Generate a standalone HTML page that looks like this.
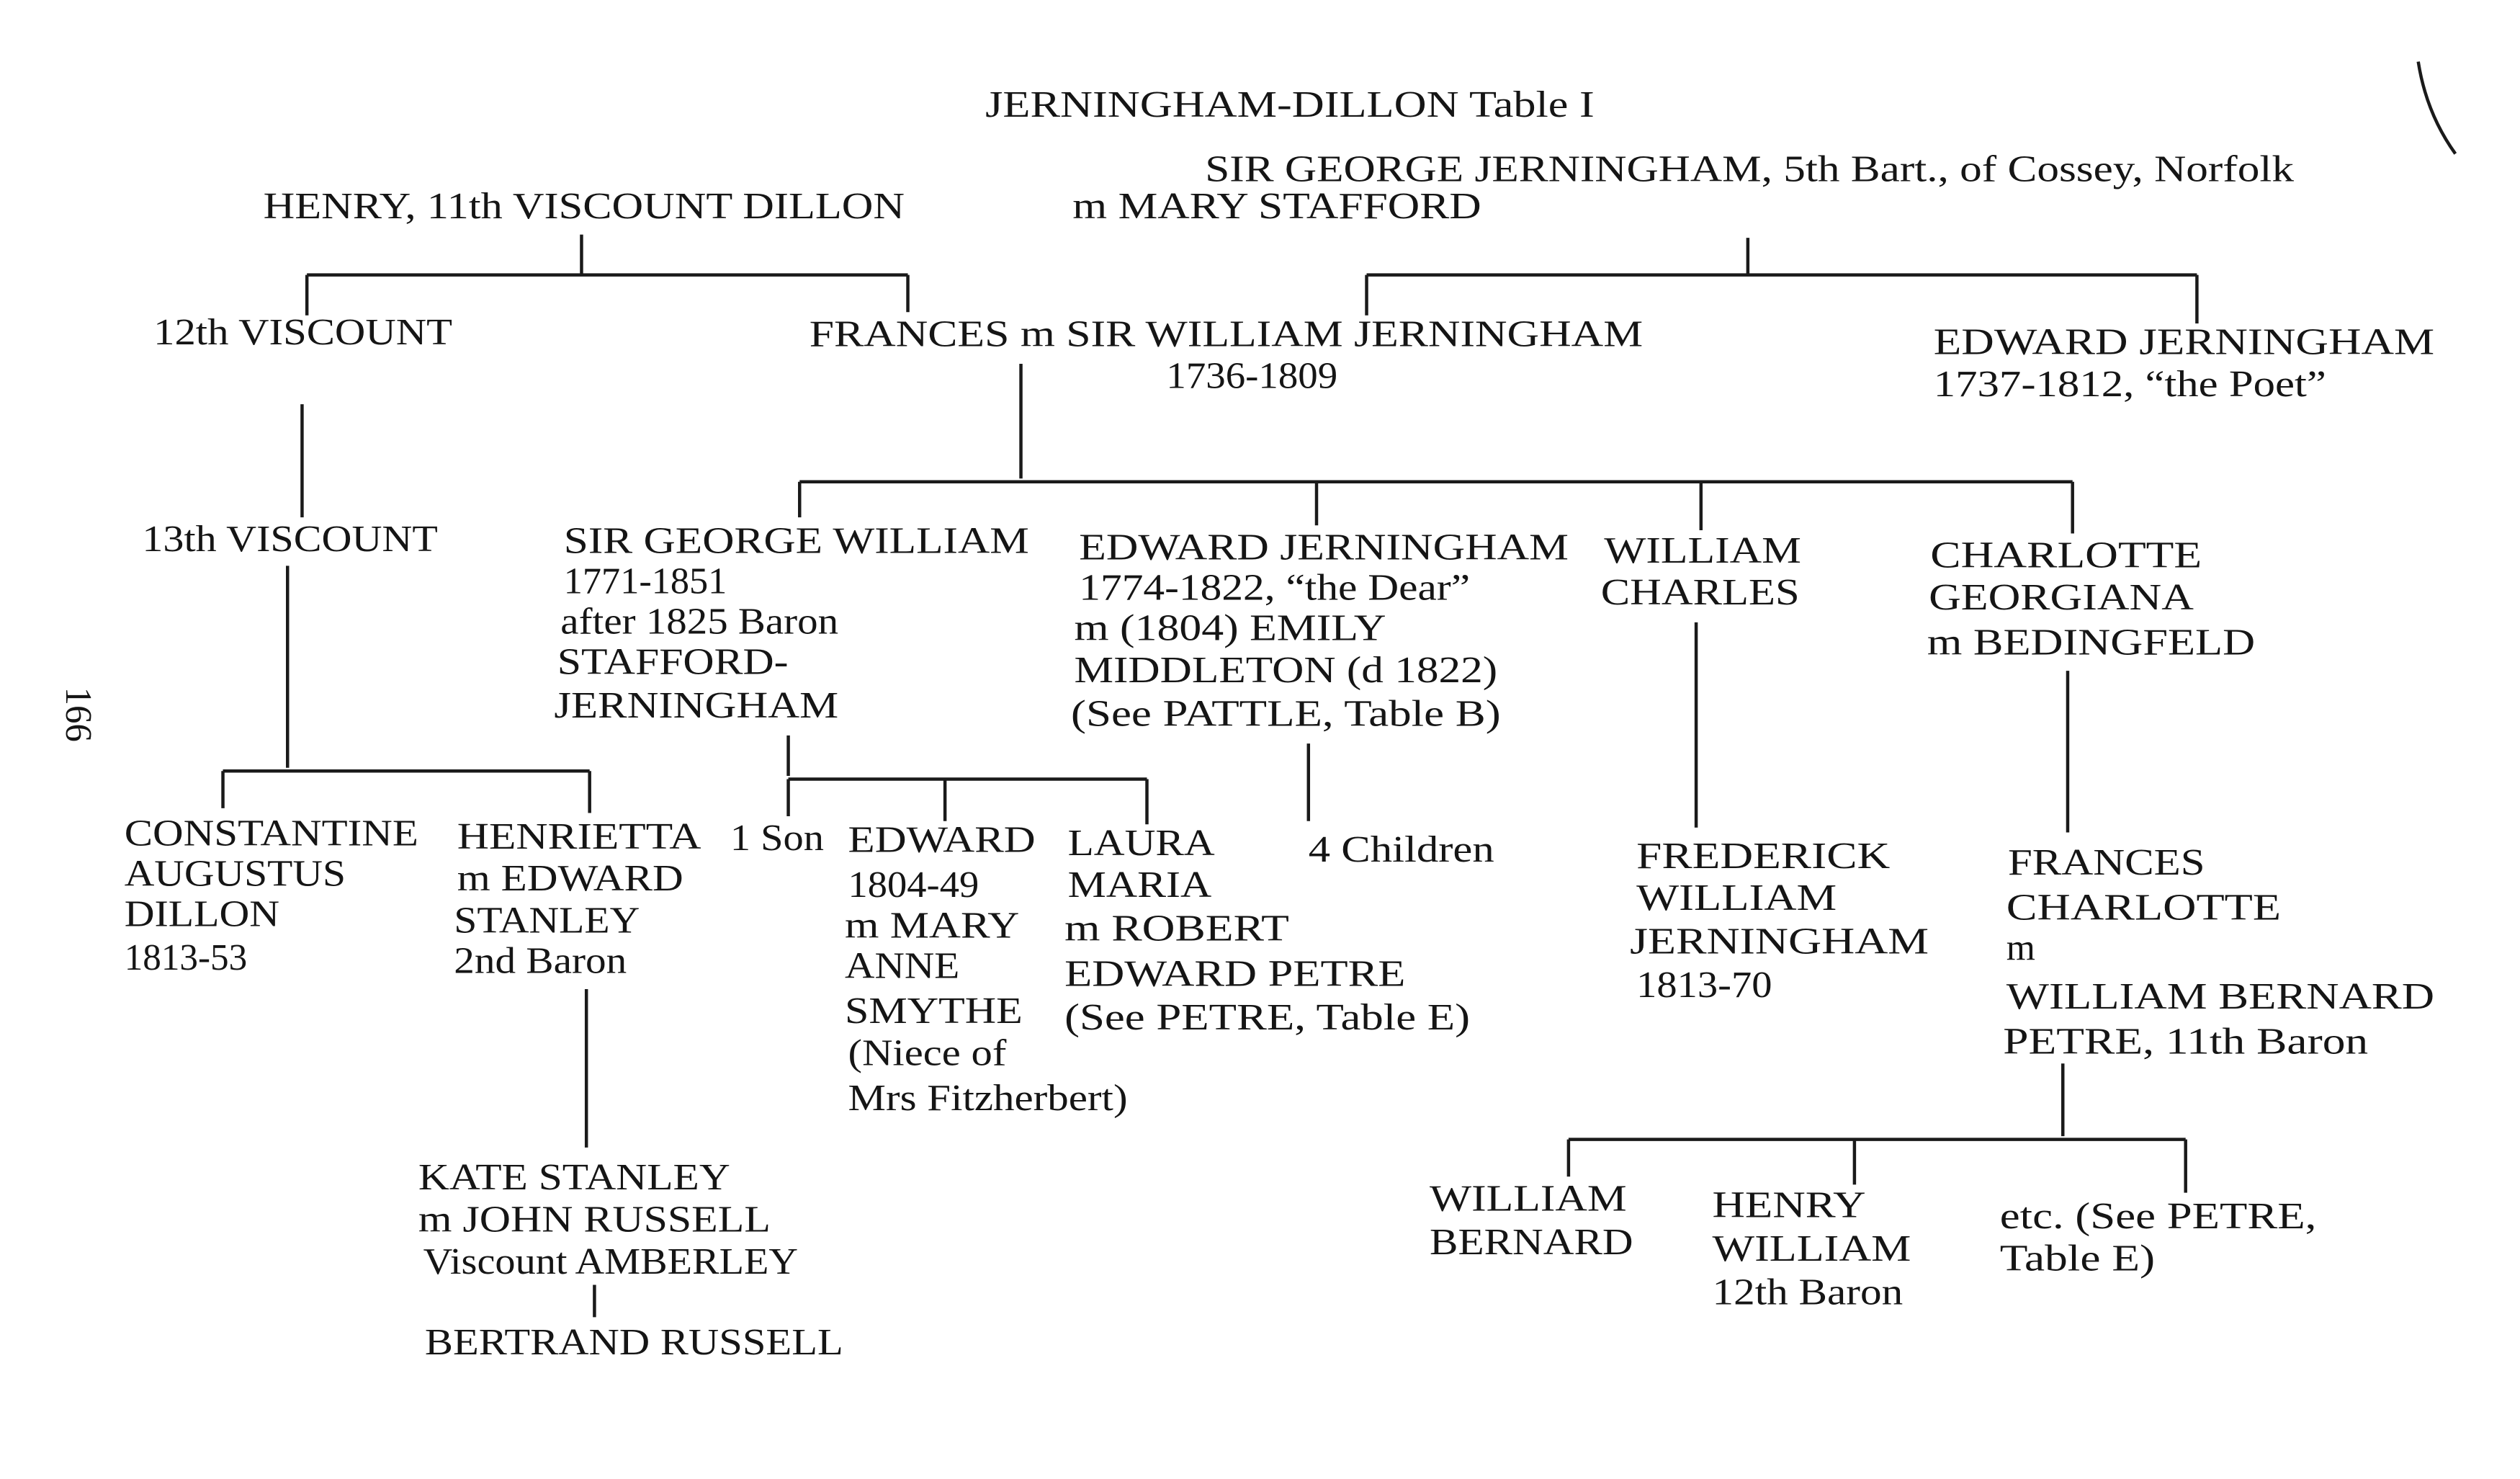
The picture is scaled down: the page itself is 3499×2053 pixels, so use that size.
<!DOCTYPE html>
<html><head><meta charset="utf-8"><style>
html,body{margin:0;padding:0;background:#fff;}
svg{display:block}
text{font-family:"Liberation Serif",serif;font-size:23px;fill:#151515;}
</style></head><body>
<svg width="3499" height="2053" viewBox="0 0 1560 915" xmlns="http://www.w3.org/2000/svg">
<rect width="1560" height="915" fill="#fff"/>
<g stroke="#1a1a1a" stroke-width="2" fill="none">
<path d="M360 145V170M190 170H562M190 170V195M562 170V193"/>
<path d="M1082 147V170M846 170H1360M846 170V195M1360 170V200"/>
<path d="M187 250V320"/>
<path d="M632 225V296M495 298H1283M495 298V320M815 298V325M1053 298V328M1283 298V330"/>
<path d="M178 350V475M138 477H365M138 477V500M365 477V503"/>
<path d="M488 455V480M488 482H710M488 482V505M585 482V508M710 482V510"/>
<path d="M810 460V508M1050 385V512M1280 415V515"/>
<path d="M363 612V710M368 795V815"/>
<path d="M1277 658V703M971 705H1353M971 705V728M1148 705V733M1353 705V738"/>
<path d="M1497 38Q1502 70 1520 95"/>
</g>
<g>
<text x="610" y="72" textLength="377" lengthAdjust="spacingAndGlyphs">JERNINGHAM-DILLON Table I</text>
<text x="746" y="112" textLength="674" lengthAdjust="spacingAndGlyphs">SIR GEORGE JERNINGHAM, 5th Bart., of Cossey, Norfolk</text>
<text x="664" y="135" textLength="253" lengthAdjust="spacingAndGlyphs">m MARY STAFFORD</text>
<text x="163" y="135" textLength="397" lengthAdjust="spacingAndGlyphs">HENRY, 11th VISCOUNT DILLON</text>
<text x="95" y="213" textLength="185" lengthAdjust="spacingAndGlyphs">12th VISCOUNT</text>
<text x="501" y="214" textLength="516" lengthAdjust="spacingAndGlyphs">FRANCES m SIR WILLIAM JERNINGHAM</text>
<text x="722" y="240" textLength="106" lengthAdjust="spacingAndGlyphs">1736-1809</text>
<text x="1197" y="219" textLength="310" lengthAdjust="spacingAndGlyphs">EDWARD JERNINGHAM</text>
<text x="1197" y="245" textLength="243" lengthAdjust="spacingAndGlyphs">1737-1812, “the Poet”</text>
<text x="88" y="341" textLength="183" lengthAdjust="spacingAndGlyphs">13th VISCOUNT</text>
<text x="349" y="342" textLength="288" lengthAdjust="spacingAndGlyphs">SIR GEORGE WILLIAM</text>
<text x="349" y="367" textLength="101" lengthAdjust="spacingAndGlyphs">1771-1851</text>
<text x="347" y="392" textLength="172" lengthAdjust="spacingAndGlyphs">after 1825 Baron</text>
<text x="345" y="417" textLength="143" lengthAdjust="spacingAndGlyphs">STAFFORD-</text>
<text x="343" y="444" textLength="176" lengthAdjust="spacingAndGlyphs">JERNINGHAM</text>
<text x="668" y="346" textLength="303" lengthAdjust="spacingAndGlyphs">EDWARD JERNINGHAM</text>
<text x="668" y="371" textLength="242" lengthAdjust="spacingAndGlyphs">1774-1822, “the Dear”</text>
<text x="665" y="396" textLength="193" lengthAdjust="spacingAndGlyphs">m (1804) EMILY</text>
<text x="665" y="422" textLength="262" lengthAdjust="spacingAndGlyphs">MIDDLETON (d 1822)</text>
<text x="663" y="449" textLength="266" lengthAdjust="spacingAndGlyphs">(See PATTLE, Table B)</text>
<text x="993" y="348" textLength="122" lengthAdjust="spacingAndGlyphs">WILLIAM</text>
<text x="991" y="374" textLength="123" lengthAdjust="spacingAndGlyphs">CHARLES</text>
<text x="1195" y="351" textLength="168" lengthAdjust="spacingAndGlyphs">CHARLOTTE</text>
<text x="1194" y="377" textLength="164" lengthAdjust="spacingAndGlyphs">GEORGIANA</text>
<text x="1193" y="405" textLength="203" lengthAdjust="spacingAndGlyphs">m BEDINGFELD</text>
<text x="0" y="0" transform="translate(41,425) rotate(90)" textLength="34" lengthAdjust="spacingAndGlyphs">166</text>
<text x="77" y="523" textLength="182" lengthAdjust="spacingAndGlyphs">CONSTANTINE</text>
<text x="77" y="548" textLength="137" lengthAdjust="spacingAndGlyphs">AUGUSTUS</text>
<text x="77" y="573" textLength="96" lengthAdjust="spacingAndGlyphs">DILLON</text>
<text x="77" y="600" textLength="76" lengthAdjust="spacingAndGlyphs">1813-53</text>
<text x="283" y="525" textLength="151" lengthAdjust="spacingAndGlyphs">HENRIETTA</text>
<text x="283" y="551" textLength="140" lengthAdjust="spacingAndGlyphs">m EDWARD</text>
<text x="281" y="577" textLength="115" lengthAdjust="spacingAndGlyphs">STANLEY</text>
<text x="281" y="602" textLength="107" lengthAdjust="spacingAndGlyphs">2nd Baron</text>
<text x="452" y="526" textLength="58" lengthAdjust="spacingAndGlyphs">1 Son</text>
<text x="525" y="527" textLength="116" lengthAdjust="spacingAndGlyphs">EDWARD</text>
<text x="525" y="555" textLength="81" lengthAdjust="spacingAndGlyphs">1804-49</text>
<text x="523" y="580" textLength="108" lengthAdjust="spacingAndGlyphs">m MARY</text>
<text x="523" y="605" textLength="71" lengthAdjust="spacingAndGlyphs">ANNE</text>
<text x="523" y="633" textLength="110" lengthAdjust="spacingAndGlyphs">SMYTHE</text>
<text x="525" y="659" textLength="98" lengthAdjust="spacingAndGlyphs">(Niece of</text>
<text x="525" y="687" textLength="173" lengthAdjust="spacingAndGlyphs">Mrs Fitzherbert)</text>
<text x="661" y="529" textLength="91" lengthAdjust="spacingAndGlyphs">LAURA</text>
<text x="661" y="555" textLength="89" lengthAdjust="spacingAndGlyphs">MARIA</text>
<text x="659" y="582" textLength="139" lengthAdjust="spacingAndGlyphs">m ROBERT</text>
<text x="659" y="610" textLength="211" lengthAdjust="spacingAndGlyphs">EDWARD PETRE</text>
<text x="659" y="637" textLength="251" lengthAdjust="spacingAndGlyphs">(See PETRE, Table E)</text>
<text x="810" y="533" textLength="115" lengthAdjust="spacingAndGlyphs">4 Children</text>
<text x="1013" y="537" textLength="157" lengthAdjust="spacingAndGlyphs">FREDERICK</text>
<text x="1013" y="563" textLength="124" lengthAdjust="spacingAndGlyphs">WILLIAM</text>
<text x="1009" y="590" textLength="185" lengthAdjust="spacingAndGlyphs">JERNINGHAM</text>
<text x="1013" y="617" textLength="84" lengthAdjust="spacingAndGlyphs">1813-70</text>
<text x="1243" y="541" textLength="122" lengthAdjust="spacingAndGlyphs">FRANCES</text>
<text x="1242" y="569" textLength="170" lengthAdjust="spacingAndGlyphs">CHARLOTTE</text>
<text x="1242" y="594">m</text>
<text x="1242" y="624" textLength="265" lengthAdjust="spacingAndGlyphs">WILLIAM BERNARD</text>
<text x="1240" y="652" textLength="226" lengthAdjust="spacingAndGlyphs">PETRE, 11th Baron</text>
<text x="259" y="736" textLength="193" lengthAdjust="spacingAndGlyphs">KATE STANLEY</text>
<text x="259" y="762" textLength="218" lengthAdjust="spacingAndGlyphs">m JOHN RUSSELL</text>
<text x="262" y="788" textLength="232" lengthAdjust="spacingAndGlyphs">Viscount AMBERLEY</text>
<text x="263" y="838" textLength="259" lengthAdjust="spacingAndGlyphs">BERTRAND RUSSELL</text>
<text x="885" y="749" textLength="122" lengthAdjust="spacingAndGlyphs">WILLIAM</text>
<text x="885" y="776" textLength="126" lengthAdjust="spacingAndGlyphs">BERNARD</text>
<text x="1060" y="753" textLength="95" lengthAdjust="spacingAndGlyphs">HENRY</text>
<text x="1060" y="780" textLength="123" lengthAdjust="spacingAndGlyphs">WILLIAM</text>
<text x="1060" y="807" textLength="118" lengthAdjust="spacingAndGlyphs">12th Baron</text>
<text x="1238" y="760" textLength="196" lengthAdjust="spacingAndGlyphs">etc. (See PETRE,</text>
<text x="1238" y="786" textLength="96" lengthAdjust="spacingAndGlyphs">Table E)</text>
</g>
</svg>
</body></html>
